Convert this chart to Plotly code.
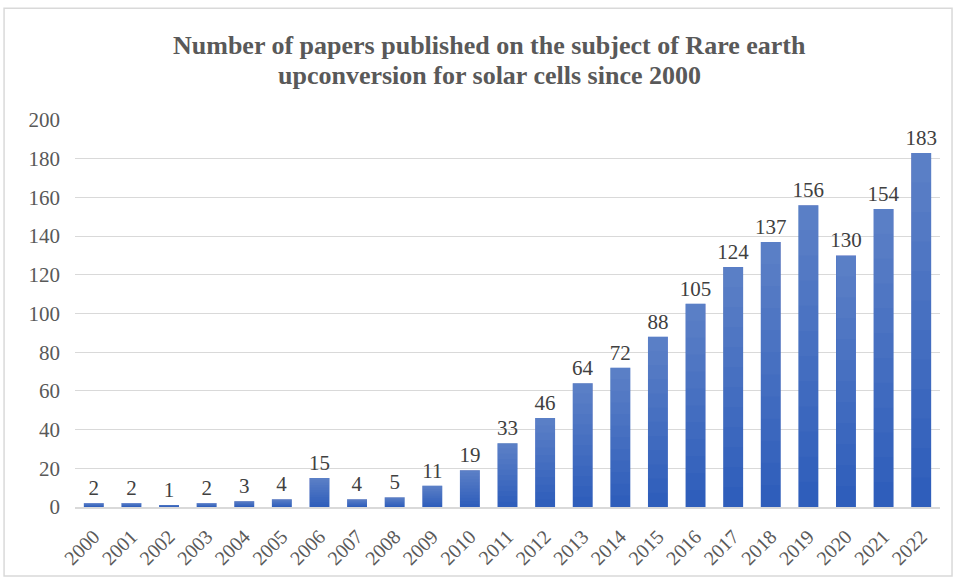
import plotly.graph_objects as go

# Publications per year
years = [str(y) for y in range(2000, 2023)]
papers = [2, 2, 1, 2, 3, 4, 15, 4, 5, 11, 19, 33, 46, 64, 72, 88, 105, 124, 137, 156, 130, 154, 183]

title_line1 = "Number of papers published on the subject of Rare earth"
title_line2 = "upconversion for solar cells since 2000"

FONT = "Liberation Serif"
BAR_DARK = "#2F5EBB"
BAR_WIDTH = 0.53
N_LAYERS = 12

fig = go.Figure()

# Base bars with value labels
fig.add_trace(go.Bar(
    x=years, y=papers,
    marker=dict(color=BAR_DARK, line=dict(width=0)),
    width=BAR_WIDTH,
    text=[str(v) for v in papers],
    textposition="outside",
    constraintext="none",
    textfont=dict(family=FONT, size=21, color="#404040"),
    cliponaxis=False,
    hoverinfo="x+y",
    showlegend=False,
))

# Translucent overlays that lighten each bar toward its top (vertical gradient)
for k in range(1, N_LAYERS):
    frac = k / N_LAYERS
    fig.add_trace(go.Bar(
        x=years,
        y=[v * (1 - frac) for v in papers],
        base=[v * frac for v in papers],
        marker=dict(color="rgba(255,255,255,0.022)", line=dict(width=0)),
        width=BAR_WIDTH,
        hoverinfo="skip",
        showlegend=False,
    ))

# Outer chart border
fig.add_shape(type="rect", xref="paper", yref="paper",
              x0=-0.082, x1=1.0139, y0=-0.178, y1=1.289,
              line=dict(color="#D9D9D9", width=1.5), fillcolor="rgba(0,0,0,0)",
              layer="below")

# Two-line bold title, placed line by line for tighter spacing
title_font = dict(family=FONT, size=26, color="#595959", weight="bold")
for line, ypx in ((title_line1, 45), (title_line2, 75)):
    fig.add_annotation(text=line, xref="paper", yref="paper",
                       x=(489 - 75) / 865, y=(507 - ypx) / 387,
                       xanchor="center", yanchor="middle",
                       showarrow=False, font=title_font)

fig.update_layout(
    width=956, height=581,
    margin=dict(l=75, r=16, t=120, b=74),
    paper_bgcolor="white", plot_bgcolor="white",
    barmode="overlay",
    font=dict(family=FONT, color="#595959"),
    xaxis=dict(
        type="category",
        tickangle=-45,
        tickfont=dict(family=FONT, size=20, color="#595959"),
        ticklabelstandoff=8,
        showgrid=False,
        showline=True, linecolor="#D9D9D9", linewidth=2,
        ticks="",
    ),
    yaxis=dict(
        range=[0, 200],
        dtick=20,
        tickfont=dict(family=FONT, size=21, color="#595959"),
        ticklabelstandoff=14,
        showgrid=True, gridcolor="#D9D9D9", gridwidth=1,
        zeroline=False,
        showline=False,
        ticks="",
        ticklen=0,
    ),
)

fig.write_html("out.html")
